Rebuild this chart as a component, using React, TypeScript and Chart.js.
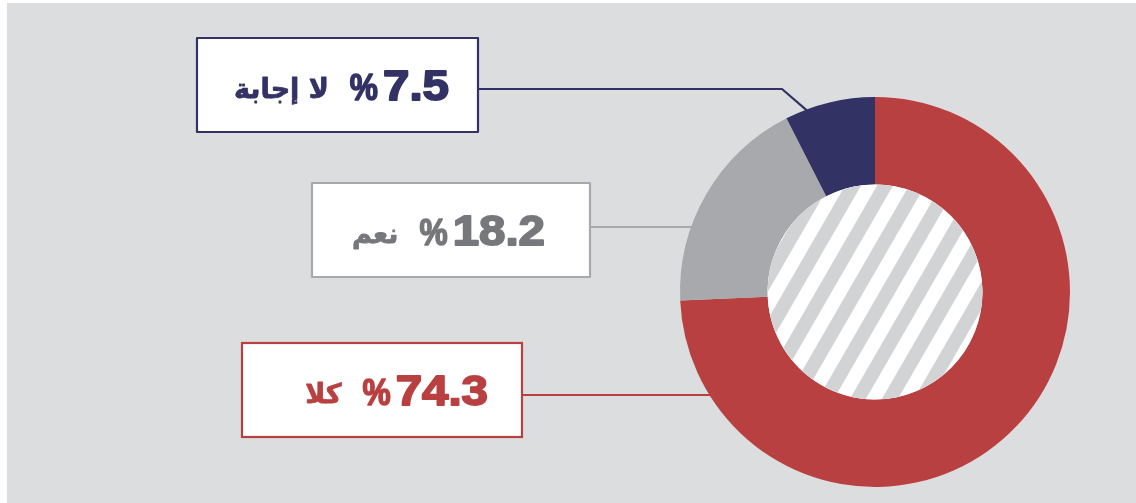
import { useEffect, useRef } from 'react';
import { Chart, registerables } from 'chart.js';

Chart.register(...registerables);

// ---- data ----
const categories = ['كلا', 'نعم', 'لا إجابة'];
const values = [74.3, 18.2, 7.5];
const valueLabels = ['74.3', '18.2', '7.5'];

// ---- styles ----
const sliceColors = ['#b94041', '#a7a9ac', '#323264'];
const textColors = ['#b94041', '#77787b', '#323264'];
const BG = '#dcdddf';
const STRIPE = '#d1d3d4';
const W = 1136;
const H = 503;

// ---- label box layout ----
const boxes = [
  { x: 242, y: 343, w: 280, h: 94, lineY: 395, elbowX: null as number | null, numRightInset: 34 },
  { x: 312, y: 183, w: 278, h: 94, lineY: 227, elbowX: null as number | null, numRightInset: 45 },
  { x: 197, y: 38, w: 281, h: 94, lineY: 89, elbowX: 782 as number | null, numRightInset: 29 },
];

const NUM_FONT = 'bold 42px "Liberation Sans", Arial, sans-serif';
const NUM_SX = 1.13;
const PCT_FONT = 'bold 36px "Liberation Sans", Arial, sans-serif';
const PCT_SX = 0.88;
const AR_FONT = 'bold 27px "DejaVu Sans", sans-serif';
const GAP1 = 21;
const GAP2 = 5;

const decor = {
  id: 'decor',
  beforeDraw(chart: any) {
    const ctx = chart.ctx;
    ctx.save();
    ctx.fillStyle = '#ffffff';
    ctx.fillRect(0, 0, W, H);
    ctx.fillStyle = BG;
    ctx.fillRect(7, 3, W - 7, H - 3);
    ctx.restore();
  },
  beforeDatasetsDraw(chart: any) {
    const ctx = chart.ctx;
    const arcs = chart.getDatasetMeta(0).data;
    ctx.save();
    ctx.lineWidth = 2.2;
    boxes.forEach((b, i) => {
      const a = arcs[i];
      const cx = a.x, cy = a.y, R = a.outerRadius;
      ctx.strokeStyle = sliceColors[i];
      ctx.beginPath();
      ctx.moveTo(b.x + b.w, b.lineY);
      if (b.elbowX !== null) {
        const ang = a.startAngle + 0.25 * (a.endAngle - a.startAngle);
        ctx.lineTo(b.elbowX, b.lineY);
        ctx.lineTo(cx + Math.cos(ang) * (R - 3), cy + Math.sin(ang) * (R - 3));
      } else {
        const dy = b.lineY - cy;
        const ex = cx - Math.sqrt(Math.max(R * R - dy * dy, 0)) + 4;
        ctx.lineTo(ex, b.lineY);
      }
      ctx.stroke();
    });
    ctx.restore();
  },
  afterDatasetsDraw(chart: any) {
    const ctx = chart.ctx;
    const a = chart.getDatasetMeta(0).data[0];
    const cx = a.x, cy = a.y, r = a.innerRadius;
    ctx.save();
    ctx.beginPath();
    ctx.arc(cx, cy, r, 0, Math.PI * 2);
    ctx.clip();
    ctx.fillStyle = '#ffffff';
    ctx.fillRect(cx - r - 2, cy - r - 2, 2 * r + 4, 2 * r + 4);
    ctx.translate(cx, cy);
    ctx.rotate(Math.PI / 6);
    ctx.fillStyle = STRIPE;
    const period = 27.7;
    const phase = 4;
    for (let k = -8; k <= 8; k++) {
      const x0 = k * period + phase;
      ctx.fillRect(x0, -r - 40, period / 2, 2 * r + 80);
    }
    ctx.restore();
  },
  afterDraw(chart: any) {
    const ctx = chart.ctx;
    ctx.save();
    boxes.forEach((b, i) => {
      ctx.fillStyle = '#ffffff';
      ctx.fillRect(b.x, b.y, b.w, b.h);
      ctx.strokeStyle = sliceColors[i];
      ctx.lineWidth = 2.2;
      ctx.strokeRect(b.x, b.y, b.w, b.h);

      const num = valueLabels[i];
      const ar = categories[i];
      ctx.font = NUM_FONT;
      const numW = ctx.measureText(num).width * NUM_SX;
      ctx.font = PCT_FONT;
      const pctW = ctx.measureText('%').width * PCT_SX;
      ctx.font = AR_FONT;
      const arW = ctx.measureText(ar).width;
      const base = b.y + b.h / 2 + 15;
      const numX = b.x + b.w - b.numRightInset - numW;
      const pctX = numX - GAP2 - pctW;
      const arX = pctX - GAP1 - arW;

      ctx.fillStyle = textColors[i];
      ctx.strokeStyle = textColors[i];
      ctx.lineJoin = 'round';
      ctx.textAlign = 'left';
      ctx.textBaseline = 'alphabetic';

      ctx.font = AR_FONT;
      ctx.lineWidth = 0.8;
      ctx.fillText(ar, arX, base - 2);
      ctx.strokeText(ar, arX, base - 2);

      ctx.save();
      ctx.font = PCT_FONT;
      ctx.translate(pctX, base);
      ctx.scale(PCT_SX, 1);
      ctx.lineWidth = 1.6;
      ctx.fillText('%', 0, 0);
      ctx.strokeText('%', 0, 0);
      ctx.restore();

      ctx.save();
      ctx.font = NUM_FONT;
      ctx.translate(numX, base);
      ctx.scale(NUM_SX, 1);
      ctx.lineWidth = 1.8;
      ctx.fillText(num, 0, 0);
      ctx.strokeText(num, 0, 0);
      ctx.restore();
    });
    ctx.restore();
  },
};

export default function App() {
  const ref = useRef<HTMLCanvasElement | null>(null);
  useEffect(() => {
    if (!ref.current) return;
    const chart = new Chart(ref.current, {
      type: 'doughnut',
      data: {
        labels: categories,
        datasets: [
          {
            data: values,
            backgroundColor: sliceColors,
            borderWidth: 0,
            hoverOffset: 0,
            offset: 0,
          },
        ],
      },
      options: {
        responsive: false,
        animation: false,
        cutout: '55.1%',
        events: [],
        layout: { padding: { left: 680, right: 66, top: 97, bottom: 16 } },
        plugins: { legend: { display: false }, tooltip: { enabled: false } },
      },
      plugins: [decor],
    } as any);
    return () => chart.destroy();
  }, []);
  return (
    <div style={{ position: 'absolute', left: 0, top: 0, width: W, height: H }}>
      <canvas ref={ref} width={W} height={H} style={{ display: 'block' }} />
    </div>
  );
}
